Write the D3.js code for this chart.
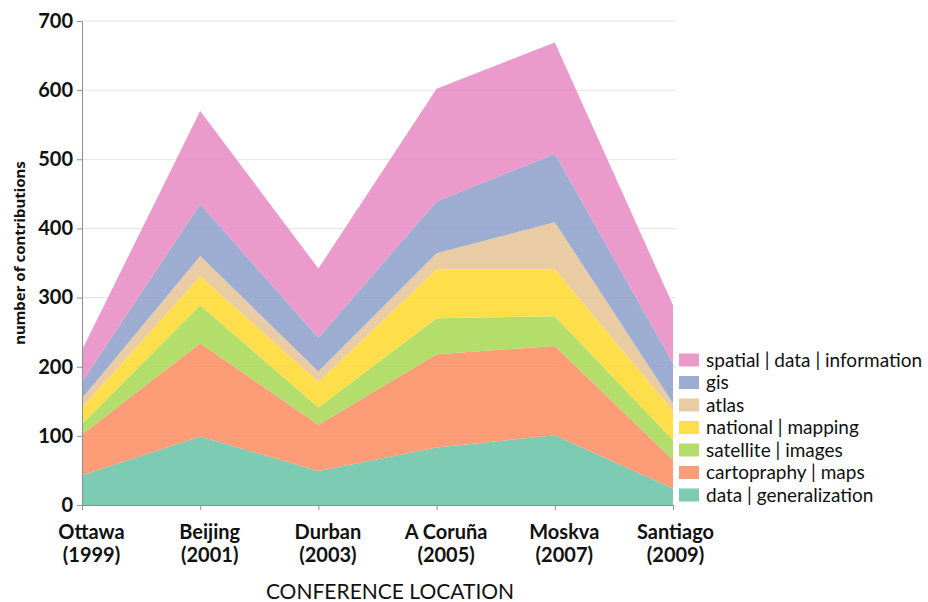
<!DOCTYPE html>
<html>
<head>
<meta charset="utf-8">
<script src="https://cdn.jsdelivr.net/npm/d3@7"></script>
<style>
  body { margin: 0; background: #fff; }
  text { font-family: Lato, "Noto Sans", sans-serif; fill: #111; }
</style>
</head>
<body>
<div id="chart"></div>
<script>
// Conference locations and years (x categories)
const locations = ["Ottawa", "Beijing", "Durban", "A Coruña", "Moskva", "Santiago"];
const years = ["1999", "2001", "2003", "2005", "2007", "2009"];

// Topics, bottom of the stack first
const topics = [
    "data | generalization",
    "cartopraphy | maps",
    "satellite | images",
    "national | mapping",
    "atlas",
    "gis",
    "spatial | data | information"
];

// Contributions per topic, one value per conference
const dataGeneralization = [43, 99, 49, 83, 101, 24];
const cartographyMaps = [59, 135, 67, 135, 129, 41];
const satelliteImages = [15, 55, 25, 52, 43, 29];
const nationalMapping = [24, 42, 37, 71, 68, 42];
const atlas = [13, 29, 15, 23, 68, 11];
const gis = [24, 75, 49, 75, 99, 58];
const spatialDataInformation = [46, 135, 100, 163, 161, 84];

const yTicks = [0, 100, 200, 300, 400, 500, 600, 700];

const seriesValues = [dataGeneralization, cartographyMaps, satelliteImages,
    nationalMapping, atlas, gis, spatialDataInformation];

// Set2 colours, in stack order
const set2 = d3.schemeSet2;
const colors = [set2[0], set2[1], set2[4], set2[5], set2[6], set2[2], set2[3]];

// table for d3.stack
const table = locations.map((loc, i) => {
    const row = { location: loc };
    topics.forEach((t, j) => { row[t] = seriesValues[j][i]; });
    return row;
});

const width = 928, height = 602;
const margin = { top: 21, right: 255, bottom: 97, left: 82 };
const plotW = width - margin.left - margin.right;
const plotH = height - margin.top - margin.bottom;

const svg = d3.select("#chart")
    .append("svg")
    .attr("width", width)
    .attr("height", height);

const g = svg.append("g")
    .attr("transform", `translate(${margin.left},${margin.top})`);

const x = d3.scalePoint()
    .domain(locations)
    .range([0, plotW]);

const y = d3.scaleLinear()
    .domain([0, 700])
    .range([plotH, 0]);

// gridlines
g.append("g")
    .selectAll("line")
    .data(yTicks)
    .enter()
    .append("line")
    .attr("x1", 0)
    .attr("x2", plotW + 3)
    .attr("y1", d => y(d))
    .attr("y2", d => y(d))
    .style("stroke", "#e4e4e4")
    .style("stroke-width", 1);

// stacked areas
const stacked = d3.stack().keys(topics)(table);

const area = d3.area()
    .x(d => x(d.data.location))
    .y0(d => y(d[0]))
    .y1(d => y(d[1]));

g.selectAll(".layer")
    .data(stacked)
    .enter()
    .append("path")
    .attr("class", "layer")
    .attr("d", area)
    .style("fill", (d, i) => colors[i])
    .style("fill-opacity", 0.86);

// y axis
const yAxis = g.append("g")
    .call(d3.axisLeft(y).tickValues(yTicks).tickSize(5).tickPadding(4));
yAxis.selectAll("text")
    .style("font-size", "20px")
    .style("font-weight", "bold");

// x axis
const xAxis = g.append("g")
    .attr("transform", `translate(0,${plotH})`)
    .call(d3.axisBottom(x).tickSize(5).tickPadding(4));
xAxis.selectAll("text").remove();

xAxis.selectAll(".tick")
    .append("text")
    .attr("text-anchor", "middle")
    .style("font-size", "20px")
    .style("font-weight", "bold")
    .each(function (d, i) {
        const t = d3.select(this);
        const dx = i === locations.length - 1 ? 2 : 9;
        t.append("tspan").attr("x", dx).attr("y", 34).text(d);
        t.append("tspan").attr("x", dx).attr("y", 57).text(`(${years[i]})`);
    });

svg.selectAll(".domain, .tick line")
    .style("stroke", "#8f8f8f");

// axis titles
svg.append("text")
    .attr("transform", "translate(25,253) rotate(-90)")
    .attr("text-anchor", "middle")
    .style("font-family", "'Noto Sans', sans-serif")
    .style("font-size", "15px")
    .style("font-weight", "bold")
    .text("number of contributions");

svg.append("text")
    .attr("x", 390)
    .attr("y", 599)
    .attr("text-anchor", "middle")
    .style("font-size", "21px")
    .text("CONFERENCE LOCATION");

// legend, top row = top of stack
const legendItems = topics.map((t, i) => ({ name: t, color: colors[i] })).reverse();

const legend = svg.append("g")
    .attr("transform", "translate(679,360)");

const item = legend.selectAll(".item")
    .data(legendItems)
    .enter()
    .append("g")
    .attr("class", "item")
    .attr("transform", (d, i) => `translate(0,${i * 22.5})`);

item.append("rect")
    .attr("x", 0)
    .attr("y", -6.5)
    .attr("width", 20)
    .attr("height", 13)
    .style("fill", d => d.color)
    .style("fill-opacity", 0.86);

item.append("text")
    .attr("x", 27)
    .attr("y", 0)
    .attr("dy", "0.35em")
    .style("font-size", "19px")
    .text(d => d.name);
</script>
</body>
</html>
